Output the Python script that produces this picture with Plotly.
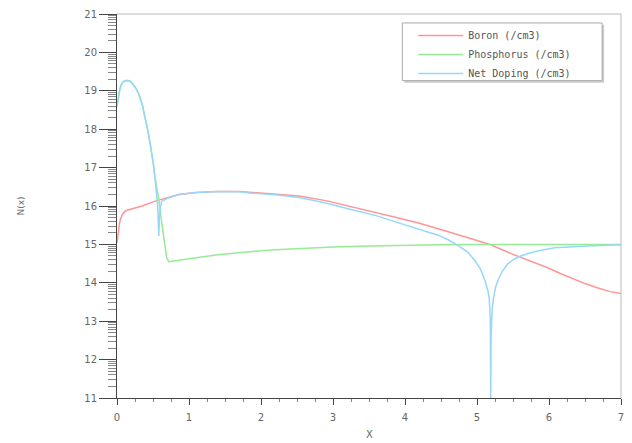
import numpy as np
import plotly.graph_objects as go

# ---------------- data ----------------
boron_x = [0.0, 0.01, 0.02, 0.035, 0.05, 0.08, 0.11, 0.14, 0.25, 0.35, 0.52, 0.7, 0.86, 1.1, 1.4, 1.7, 1.84,
           2.2, 2.53, 2.9, 3.22, 3.6, 3.91, 4.2, 4.46, 4.6, 5.0, 5.19, 5.5, 5.84, 6.0, 6.15, 6.3, 6.5, 6.67,
           6.85, 7.0]
boron_y = [15.04, 15.2, 15.38, 15.55, 15.67, 15.8, 15.86, 15.89, 15.95, 16.0, 16.12, 16.22, 16.3, 16.35, 16.38,
           16.38, 16.36, 16.32, 16.26, 16.14, 16.0, 15.84, 15.69, 15.55, 15.42, 15.33, 15.1, 14.99, 14.74, 14.5,
           14.38, 14.25, 14.13, 13.98, 13.87, 13.77, 13.72]

phos_x = [0.0, 0.02, 0.04, 0.06, 0.08, 0.11, 0.14, 0.17, 0.2, 0.25, 0.3, 0.35, 0.39, 0.43, 0.46, 0.49, 0.51,
          0.525, 0.58, 0.63, 0.69, 0.72, 0.85, 1.0, 1.2, 1.4, 1.6, 1.84, 2.2, 2.5, 3.0, 3.5, 4.0, 4.5, 5.0,
          6.0, 7.0]
phos_y = [18.6, 18.85, 19.05, 19.16, 19.22, 19.26, 19.27, 19.26, 19.22, 19.1, 18.93, 18.65, 18.33, 17.95, 17.63,
          17.3, 17.04, 16.78, 16.18, 15.45, 14.65, 14.55, 14.58, 14.63, 14.68, 14.73, 14.77, 14.81, 14.86, 14.89,
          14.93, 14.96, 14.98, 14.99, 15.0, 15.0, 15.0]

net_x = [0.0, 0.02, 0.04, 0.06, 0.08, 0.11, 0.14, 0.17, 0.2, 0.25, 0.3, 0.35, 0.39, 0.43, 0.46, 0.49, 0.51,
         0.54, 0.565, 0.58, 0.595, 0.62, 0.7, 0.86, 1.1, 1.4, 1.7, 1.84, 2.2, 2.53, 2.9, 3.22, 3.6, 3.91, 4.2,
         4.46, 4.6, 4.74, 4.87, 4.97, 5.05, 5.11, 5.15, 5.17, 5.185, 5.19, 5.195, 5.21, 5.23, 5.26, 5.29, 5.35,
         5.43, 5.52, 5.61, 5.72, 5.84, 6.08, 6.3, 6.53, 7.0]
net_y = [18.6, 18.85, 19.05, 19.16, 19.22, 19.26, 19.27, 19.26, 19.22, 19.1, 18.93, 18.65, 18.33, 17.95, 17.63,
         17.3, 17.04, 16.5, 16.0, 15.22, 15.9, 16.12, 16.2, 16.3, 16.35, 16.38, 16.37, 16.34, 16.29, 16.22, 16.08,
         15.92, 15.75, 15.56, 15.4, 15.24, 15.12, 14.97, 14.8, 14.58, 14.35, 14.06, 13.8, 13.6, 13.0, 11.0, 12.6,
         13.3, 13.62, 13.9, 14.06, 14.3, 14.5, 14.62, 14.7, 14.77, 14.83, 14.91, 14.94, 14.96, 14.99]

names = ["Boron (/cm3)", "Phosphorus (/cm3)", "Net Doping (/cm3)"]
colors = ["rgb(255,150,150)", "rgb(150,235,150)", "rgb(150,215,250)"]

y_major = list(range(11, 22))
x_major = list(range(0, 8))
y_minor = [d + np.log10(k) for d in range(11, 21) for k in range(2, 10)]

# ---------------- layout geometry (pixels) ----------------
W, H = 632, 443
L, R, T, B = 117, 8, 12, 45
PW, PH = W - L - R, H - T - B


def px(xp):
    return (xp - L) / PW


def py(yp):
    return (H - B - yp) / PH


fig = go.Figure()
for xs, ys, nm, c in zip([boron_x, phos_x, net_x], [boron_y, phos_y, net_y], names, colors):
    fig.add_trace(go.Scatter(x=xs, y=ys, mode="lines", name=nm,
                             line=dict(color=c, width=1.5)))

axis_col = "#444444"
tick_font = dict(family="DejaVu Sans", size=10, color="#666666")

fig.update_layout(
    width=W, height=H,
    margin=dict(l=L, r=R, t=T, b=B, pad=0),
    plot_bgcolor="white", paper_bgcolor="white",
    showlegend=True,
    legend=dict(x=px(415), y=py(19), xanchor="left", yanchor="top",
                bgcolor="rgba(0,0,0,0)", borderwidth=0, itemwidth=45,
                font=dict(family="DejaVu Sans Mono", size=10, color="#555555")),
    xaxis=dict(range=[0, 7], showgrid=False, zeroline=False,
               showline=True, linecolor=axis_col, linewidth=1,
               tickmode="array", tickvals=x_major, ticktext=[str(v) for v in x_major],
               ticks="outside", ticklen=6, tickcolor=axis_col, tickwidth=1,
               ticklabelstandoff=4, tickfont=tick_font,
               minor=dict(dtick=0.25, tick0=0, ticks="outside", ticklen=3,
                          tickcolor="#888888", showgrid=False)),
    yaxis=dict(range=[11, 21], showgrid=False, zeroline=False,
               showline=True, linecolor=axis_col, linewidth=1,
               tickmode="array", tickvals=y_major, ticktext=[str(v) for v in y_major],
               ticks="outside", ticklen=17, tickcolor=axis_col, tickwidth=1,
               tickfont=tick_font,
               minor=dict(tickmode="array", tickvals=y_minor, ticks="outside", ticklen=8,
                          tickcolor="#888888", showgrid=False)),
)

# frame (top / right) and legend box
fig.add_shape(type="line", xref="paper", yref="paper", x0=0, x1=1, y0=1, y1=1,
              line=dict(color="#bbbbbb", width=1), layer="above")
fig.add_shape(type="line", xref="paper", yref="paper", x0=1, x1=1, y0=0, y1=1,
              line=dict(color="#bbbbbb", width=1), layer="above")
fig.add_shape(type="rect", xref="paper", yref="paper",
              x0=px(406), x1=px(607), y0=py(81), y1=py(23),
              line=dict(width=0), fillcolor="#cccccc", layer="above")
fig.add_shape(type="rect", xref="paper", yref="paper",
              x0=px(404), x1=px(605), y0=py(79), y1=py(21),
              line=dict(color="#aaaaaa", width=1), fillcolor="white", layer="above")

fig.add_annotation(text="X", xref="paper", yref="paper", x=0.5, y=py(435),
                   xanchor="center", yanchor="middle", showarrow=False,
                   font=dict(family="DejaVu Sans", size=10, color="#666666"))
fig.add_annotation(text="N(x)", xref="paper", yref="paper", x=px(20), y=0.5,
                   xanchor="center", yanchor="middle", showarrow=False, textangle=-90,
                   font=dict(family="DejaVu Sans", size=9, color="#666666"))

fig.write_html("out.html")
